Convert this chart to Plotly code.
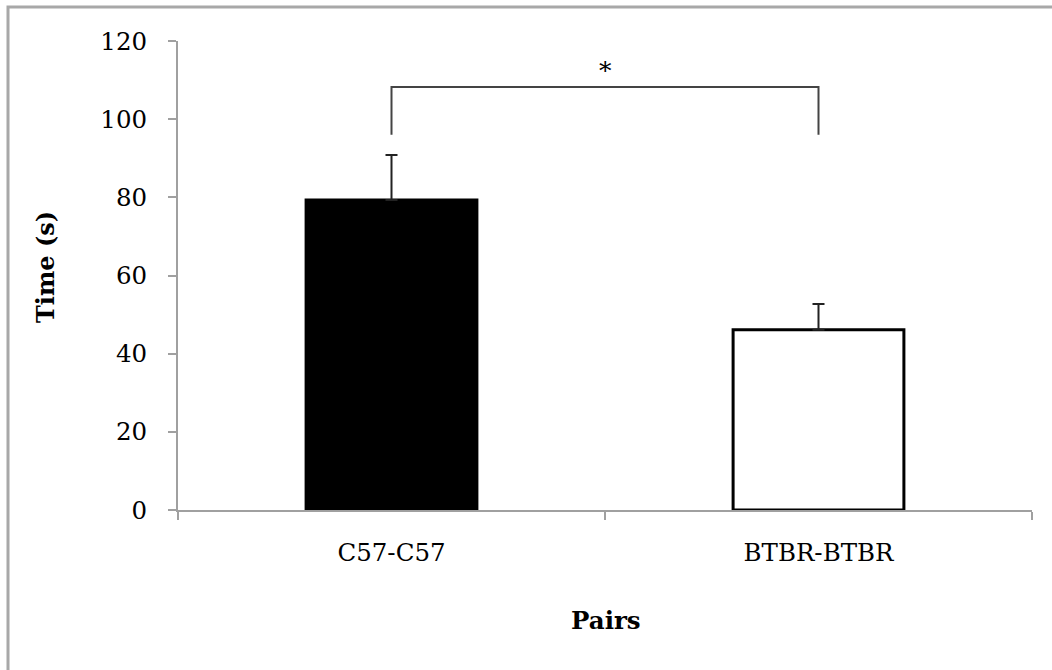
import plotly.graph_objects as go

categories = ["C57-C57", "BTBR-BTBR"]
means = [79.3, 46.1]
errors_up = [11.5, 6.6]
bar_fill = ["#000000", "#ffffff"]
y_ticks = [0, 20, 40, 60, 80, 100, 120]
bracket_top = 108.2
bracket_bottom = 96.0
sig_label = "*"

W, H = 1052, 670
ml, mr, mt, mb = 178, 20, 41, 160
pw = W - ml - mr
ph = H - mt - mb

def px_x(px):
    return (px - ml) / pw

def px_y(py):
    return (H - mb - py) / ph

FONT = "DejaVu Serif"

fig = go.Figure()
fig.add_trace(go.Bar(
    x=categories, y=means,
    marker=dict(color=bar_fill, line=dict(color="#000000", width=3)),
    width=0.4,
    error_y=dict(type="data", array=errors_up, arrayminus=[0] * len(means),
                 symmetric=False, color="#222222", thickness=2, width=6),
    showlegend=False,
))

# significance bracket
fig.add_shape(type="path",
              path=f"M 0,{bracket_bottom} L 0,{bracket_top} L 1,{bracket_top} L 1,{bracket_bottom}",
              xref="x", yref="y", line=dict(color="#444444", width=2))
fig.add_annotation(x=0.5, y=bracket_top, xref="x", yref="y", text=sig_label,
                   showarrow=False, yanchor="bottom", yshift=0,
                   font=dict(family=FONT, size=25, color="#000000"))

# outer border (top and left visible)
fig.add_shape(type="rect", xref="paper", yref="paper",
              x0=px_x(8), x1=px_x(1100), y0=px_y(720), y1=px_y(7),
              line=dict(color="#a8a8a8", width=3), fillcolor="rgba(0,0,0,0)", layer="below")

fig.add_annotation(xref="paper", yref="paper", x=px_x(45), y=px_y(267),
                   text="<b>Time (s)</b>", textangle=-90, showarrow=False,
                   xanchor="center", yanchor="middle",
                   font=dict(family=FONT, size=24, color="#000000"))
fig.add_annotation(xref="paper", yref="paper", x=px_x(606), y=px_y(620),
                   text="<b>Pairs</b>", showarrow=False,
                   xanchor="center", yanchor="middle",
                   font=dict(family=FONT, size=24.5, color="#000000"))

fig.update_layout(
    width=W, height=H,
    margin=dict(l=ml, r=mr, t=mt, b=mb),
    paper_bgcolor="white", plot_bgcolor="white",
    bargap=0.6,
    xaxis=dict(type="category", range=[-0.5, 1.5], tickson="boundaries",
               ticks="outside", ticklen=8, tickwidth=2, tickcolor="#a0a0a0",
               showline=True, linecolor="#a0a0a0", linewidth=2,
               showgrid=False, zeroline=False, ticklabelstandoff=20,
               tickfont=dict(family=FONT, size=24.5, color="#000000")),
    yaxis=dict(range=[0, 120], tickvals=y_ticks,
               ticks="outside", ticklen=8, tickwidth=2, tickcolor="#a0a0a0",
               showline=True, linecolor="#a0a0a0", linewidth=2,
               showgrid=False, zeroline=False, ticklabelstandoff=16,
               tickfont=dict(family=FONT, size=24.5, color="#000000")),
)

fig.write_html("out.html")
